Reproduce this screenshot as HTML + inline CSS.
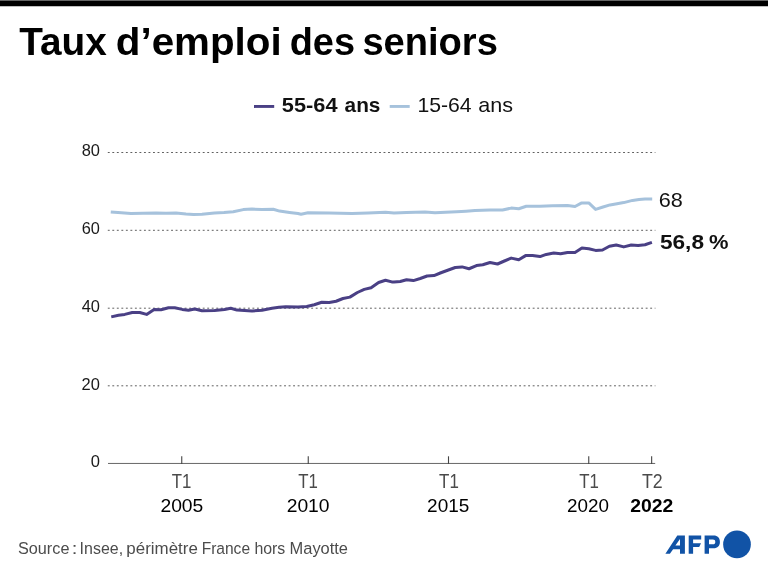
<!DOCTYPE html>
<html><head><meta charset="utf-8"><title>Taux d’emploi des seniors</title>
<style>
html,body{margin:0;padding:0;background:#fff;}
body{width:768px;height:572px;overflow:hidden;font-family:"Liberation Sans",sans-serif;}
svg{display:block;will-change:transform;}
text{font-family:"Liberation Sans",sans-serif;}
</style></head><body>
<svg width="768" height="572" viewBox="0 0 768 572">
<rect x="0" y="0" width="768" height="572" fill="#ffffff"/>
<rect x="0" y="0.4" width="768" height="5.85" fill="#000"/>
<line x1="254" x2="274.2" y1="106.45" y2="106.45" stroke="#4a4085" stroke-width="2.9"/>
<line x1="389.7" x2="409.7" y1="106.45" y2="106.45" stroke="#a6c2dc" stroke-width="2.9"/>
<line x1="107.8" x2="655.4" y1="152.5" y2="152.5" stroke="#606060" stroke-width="1" stroke-dasharray="1.9 2.62"/>
<line x1="107.8" x2="655.4" y1="230.3" y2="230.3" stroke="#606060" stroke-width="1" stroke-dasharray="1.9 2.62"/>
<line x1="107.8" x2="655.4" y1="308.2" y2="308.2" stroke="#606060" stroke-width="1" stroke-dasharray="1.9 2.62"/>
<line x1="107.8" x2="655.4" y1="385.8" y2="385.8" stroke="#606060" stroke-width="1" stroke-dasharray="1.9 2.62"/>
<line x1="108" x2="655.2" y1="463.45" y2="463.45" stroke="#666" stroke-width="1"/>
<line x1="181.75" x2="181.75" y1="456.3" y2="463.9" stroke="#444" stroke-width="1.1"/>
<line x1="308.25" x2="308.25" y1="456.3" y2="463.9" stroke="#444" stroke-width="1.1"/>
<line x1="448.5" x2="448.5" y1="456.3" y2="463.9" stroke="#444" stroke-width="1.1"/>
<line x1="588.75" x2="588.75" y1="456.3" y2="463.9" stroke="#444" stroke-width="1.1"/>
<line x1="651.65" x2="651.65" y1="456.3" y2="463.9" stroke="#444" stroke-width="1.1"/>
<polyline points="110.75,212.00 118.00,212.60 131.00,213.50 143.00,213.30 156.00,213.10 166.00,213.30 176.00,213.10 186.00,214.00 193.50,214.50 202.00,214.25 214.50,212.90 224.00,212.60 233.25,211.80 243.25,209.60 252.00,209.10 262.00,209.50 273.25,209.30 279.50,211.10 289.50,212.40 298.00,213.50 301.00,214.20 308.00,212.80 329.00,213.10 352.00,213.60 368.00,213.00 385.50,212.20 394.00,213.10 406.50,212.40 425.00,212.00 435.00,212.70 456.50,211.75 466.00,211.20 475.00,210.50 490.00,210.00 502.50,210.00 511.25,208.10 518.75,208.70 526.25,206.30 540.00,206.25 552.50,205.70 567.50,205.60 575.00,206.50 581.25,203.10 588.75,202.90 595.60,209.40 603.00,207.00 610.00,204.90 617.00,203.70 623.75,202.60 632.50,200.40 639.00,199.50 645.00,198.90 652.20,198.90" fill="none" stroke="#a6c2dc" stroke-width="3" stroke-linejoin="round" stroke-linecap="butt"/>
<polyline points="111.25,316.90 118.50,315.25 124.75,314.40 132.25,312.50 139.75,312.50 146.60,314.40 154.10,309.40 161.00,309.75 168.50,307.75 174.75,307.75 182.25,309.40 188.50,310.25 194.75,309.00 202.00,310.70 214.50,310.40 224.50,309.50 230.75,308.25 237.00,310.10 244.50,310.60 252.00,311.00 262.00,310.30 272.00,308.30 279.00,307.30 285.75,306.70 298.00,307.00 306.75,306.50 314.25,304.75 321.75,302.25 329.25,302.50 336.10,301.25 343.00,298.50 349.90,297.10 357.40,292.50 364.25,289.40 371.10,287.75 378.60,282.50 385.50,280.25 391.75,281.90 394.00,281.90 400.25,281.50 406.50,279.75 413.40,280.60 420.25,278.50 427.10,276.00 434.00,275.60 440.90,272.75 448.40,270.00 455.25,267.50 462.10,266.90 469.00,268.75 476.50,265.60 482.75,264.75 490.00,262.50 497.50,264.00 504.40,261.00 511.25,258.10 518.75,259.75 525.60,255.60 532.50,255.60 540.00,256.60 546.25,254.40 553.75,253.10 560.60,253.75 567.50,252.50 575.00,252.40 581.90,248.10 588.75,248.75 595.60,250.40 602.50,250.00 609.40,246.25 616.25,245.00 623.75,246.90 631.25,245.00 638.10,245.40 645.00,244.75 651.90,242.40" fill="none" stroke="#4a4085" stroke-width="3" stroke-linejoin="round" stroke-linecap="butt"/>
<text x="19.27" y="54.6" font-size="39.3" font-weight="bold" fill="#000" textLength="87.58" lengthAdjust="spacingAndGlyphs">Taux</text>
<text x="115.83" y="54.6" font-size="39.3" font-weight="bold" fill="#000" textLength="165.81" lengthAdjust="spacingAndGlyphs">d’emploi</text>
<text x="289.7" y="54.6" font-size="39.3" font-weight="bold" fill="#000" textLength="65.3" lengthAdjust="spacingAndGlyphs">des</text>
<text x="362.39" y="54.6" font-size="39.3" font-weight="bold" fill="#000" textLength="135.48" lengthAdjust="spacingAndGlyphs">seniors</text>
<text x="281.89" y="112.2" font-size="21.0" font-weight="bold" fill="#111" textLength="55.68" lengthAdjust="spacingAndGlyphs">55-64</text>
<text x="344.6" y="112.2" font-size="21.0" font-weight="bold" fill="#111" textLength="35.82" lengthAdjust="spacingAndGlyphs">ans</text>
<text x="417.41" y="112.35" font-size="21.0" fill="#111" textLength="54.24" lengthAdjust="spacingAndGlyphs">15-64</text>
<text x="478.32" y="112.35" font-size="21.0" fill="#111" textLength="34.76" lengthAdjust="spacingAndGlyphs">ans</text>
<text x="81.73" y="156.1" font-size="16.4" fill="#1a1a1a" textLength="18.31" lengthAdjust="spacingAndGlyphs">80</text>
<text x="81.7" y="233.9" font-size="16.4" fill="#1a1a1a" textLength="18.2" lengthAdjust="spacingAndGlyphs">60</text>
<text x="81.67" y="311.65" font-size="16.4" fill="#1a1a1a" textLength="18.31" lengthAdjust="spacingAndGlyphs">40</text>
<text x="81.63" y="389.6" font-size="16.4" fill="#1a1a1a" textLength="18.32" lengthAdjust="spacingAndGlyphs">20</text>
<text x="90.78" y="467.4" font-size="16.4" fill="#1a1a1a" textLength="9.21" lengthAdjust="spacingAndGlyphs">0</text>
<text x="171.75" y="488" font-size="19.9" fill="#4a4a4a" textLength="19.62" lengthAdjust="spacingAndGlyphs">T1</text>
<text x="298.3" y="488" font-size="19.9" fill="#4a4a4a" textLength="19.64" lengthAdjust="spacingAndGlyphs">T1</text>
<text x="439.08" y="488" font-size="19.9" fill="#4a4a4a" textLength="19.75" lengthAdjust="spacingAndGlyphs">T1</text>
<text x="579.22" y="488" font-size="19.9" fill="#4a4a4a" textLength="19.65" lengthAdjust="spacingAndGlyphs">T1</text>
<text x="642.0" y="488" font-size="19.9" fill="#4a4a4a" textLength="20.74" lengthAdjust="spacingAndGlyphs">T2</text>
<text x="160.4" y="512" font-size="19.0" fill="#000" textLength="42.96" lengthAdjust="spacingAndGlyphs">2005</text>
<text x="286.66" y="512" font-size="19.0" fill="#000" textLength="42.91" lengthAdjust="spacingAndGlyphs">2010</text>
<text x="427.09" y="512" font-size="19.0" fill="#000" textLength="42.22" lengthAdjust="spacingAndGlyphs">2015</text>
<text x="567.07" y="512" font-size="19.0" fill="#000" textLength="41.95" lengthAdjust="spacingAndGlyphs">2020</text>
<text x="630.21" y="512" font-size="19.0" font-weight="bold" fill="#000" textLength="43.1" lengthAdjust="spacingAndGlyphs">2022</text>
<text x="658.68" y="207.4" font-size="20.8" fill="#111" textLength="24.07" lengthAdjust="spacingAndGlyphs">68</text>
<text x="659.95" y="248.8" font-size="20.8" font-weight="bold" fill="#111" textLength="44.08" lengthAdjust="spacingAndGlyphs">56,8</text>
<text x="709.02" y="248.8" font-size="20.8" font-weight="bold" fill="#111" textLength="19.5" lengthAdjust="spacingAndGlyphs">%</text>
<text x="17.96" y="554.4" font-size="16.9" fill="#4c4c4c" textLength="51.5" lengthAdjust="spacingAndGlyphs">Source</text>
<text x="71.69" y="554.4" font-size="16.9" fill="#4c4c4c" textLength="5.61" lengthAdjust="spacingAndGlyphs">:</text>
<text x="79.61" y="554.4" font-size="16.9" fill="#4c4c4c" textLength="43.45" lengthAdjust="spacingAndGlyphs">Insee,</text>
<text x="126.39" y="554.4" font-size="16.9" fill="#4c4c4c" textLength="71.47" lengthAdjust="spacingAndGlyphs">périmètre</text>
<text x="201.63" y="554.4" font-size="16.9" fill="#4c4c4c" textLength="48.43" lengthAdjust="spacingAndGlyphs">France</text>
<text x="254.39" y="554.4" font-size="16.9" fill="#4c4c4c" textLength="30.92" lengthAdjust="spacingAndGlyphs">hors</text>
<text x="289.56" y="554.4" font-size="16.9" fill="#4c4c4c" textLength="58.48" lengthAdjust="spacingAndGlyphs">Mayotte</text>
<g fill="#1153a6">
<path fill-rule="evenodd" d="M665.4 553.85 L677.3 535.5 L684.9 535.5 L684.9 553.85 L680 553.85 L680 549.3 L673.1 549.3 L669.9 553.85 Z M675.4 545.6 L680 545.6 L680 539.1 Z"/>
<path d="M688.7 535.6 H701.2 V539.55 H693.1 V543.2 H701 L699.2 547.1 H693.1 V553.85 H688.7 Z"/>
<path fill-rule="evenodd" d="M704.6 535.6 H713.6 C717.6 535.6 719.9 538 719.9 541.9 C719.9 545.8 717.6 548.15 713.6 548.15 H709 V553.85 H704.6 Z M709 539.55 H712.9 C714.5 539.55 715.3 540.4 715.3 541.9 C715.3 543.4 714.5 544.2 712.9 544.2 H709 Z"/>
<circle cx="737" cy="544.4" r="13.85"/>
</g>
</svg>
</body></html>
